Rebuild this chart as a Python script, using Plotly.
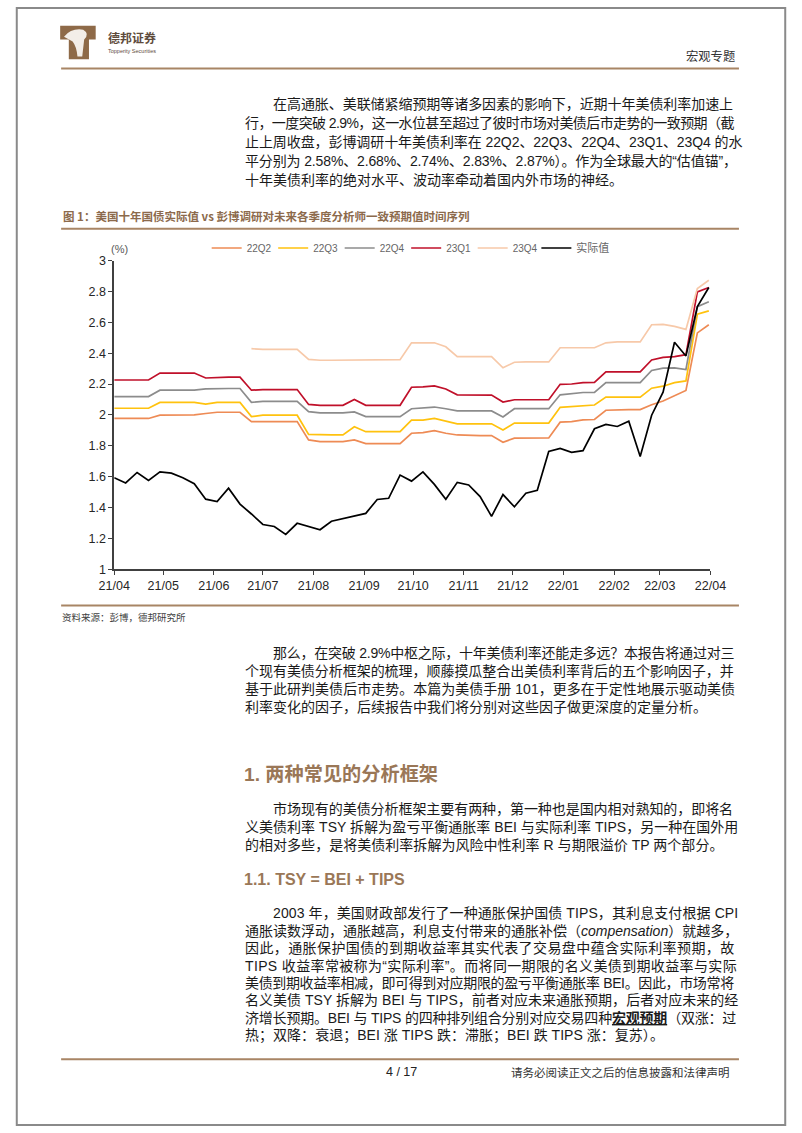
import re
import plotly.graph_objects as go
import pandas as pd

W, H = 802, 1133

# ---------------- data ----------------
start_date = "2021-04-01"
n_weeks = 53
dates = pd.date_range(start_date, periods=n_weeks, freq="7D")

actual = [1.593, 1.559, 1.627, 1.576, 1.631, 1.623, 1.593, 1.554, 1.454, 1.439,
          1.525, 1.422, 1.358, 1.290, 1.277, 1.226, 1.298, 1.277, 1.256, 1.311,
          1.328, 1.345, 1.362, 1.452, 1.460, 1.610, 1.571, 1.631, 1.550, 1.454,
          1.563, 1.546, 1.471, 1.343, 1.484, 1.405, 1.493, 1.512, 1.763, 1.783,
          1.757, 1.768, 1.910, 1.938, 1.925, 1.959, 1.731, 1.998, 2.147, 2.471,
          2.382, 2.701, 2.825]

f22q2 = [1.977, 1.977, 1.977, 1.977, 1.998, 2.000, 2.000, 2.000, 2.009, 2.017,
         2.017, 2.017, 1.957, 1.957, 1.957, 1.957, 1.957, 1.838, 1.827, 1.827,
         1.827, 1.838, 1.814, 1.814, 1.814, 1.814, 1.881, 1.885, 1.898, 1.881,
         1.870, 1.866, 1.866, 1.866, 1.823, 1.849, 1.851, 1.851, 1.851, 1.953,
         1.957, 1.968, 1.970, 2.030, 2.034, 2.034, 2.034, 2.066, 2.090, 2.126,
         2.158, 2.531, 2.584]

f22q3 = [2.043, 2.043, 2.043, 2.043, 2.081, 2.081, 2.081, 2.081, 2.070, 2.081,
         2.081, 2.081, 1.989, 1.998, 1.998, 1.998, 1.998, 1.874, 1.870, 1.870,
         1.870, 1.923, 1.891, 1.891, 1.891, 1.891, 1.966, 1.966, 1.977, 1.960,
         1.942, 1.942, 1.942, 1.942, 1.902, 1.947, 1.947, 1.947, 1.947, 2.049,
         2.055, 2.062, 2.064, 2.115, 2.115, 2.115, 2.115, 2.173, 2.186, 2.209,
         2.220, 2.652, 2.674]

f22q4 = [2.119, 2.119, 2.119, 2.119, 2.160, 2.160, 2.160, 2.160, 2.168, 2.171,
         2.171, 2.171, 2.081, 2.087, 2.087, 2.087, 2.087, 2.021, 2.013, 2.013,
         2.013, 2.019, 1.989, 1.989, 1.989, 1.989, 2.040, 2.045, 2.051, 2.040,
         2.026, 2.026, 2.026, 2.026, 1.987, 2.040, 2.040, 2.040, 2.040, 2.130,
         2.136, 2.145, 2.145, 2.209, 2.209, 2.209, 2.209, 2.288, 2.303, 2.305,
         2.294, 2.701, 2.733]

f23q1 = [2.226, 2.226, 2.226, 2.226, 2.271, 2.271, 2.271, 2.271, 2.239, 2.243,
         2.245, 2.245, 2.160, 2.164, 2.164, 2.164, 2.164, 2.068, 2.062, 2.062,
         2.062, 2.100, 2.062, 2.062, 2.062, 2.062, 2.179, 2.181, 2.188, 2.168,
         2.130, 2.128, 2.128, 2.128, 2.083, 2.098, 2.098, 2.098, 2.098, 2.198,
         2.200, 2.209, 2.211, 2.279, 2.279, 2.279, 2.279, 2.356, 2.373, 2.377,
         2.390, 2.797, 2.825]

f23q4 = [None, None, None, None, None, None, None, None, None, None,
         None, None, 2.429, 2.424, 2.424, 2.424, 2.424, 2.360, 2.354, 2.354,
         2.354, 2.358, 2.358, 2.358, 2.358, 2.358, 2.467, 2.467, 2.467, 2.441,
         2.377, 2.377, 2.377, 2.377, 2.305, 2.341, 2.343, 2.343, 2.343, 2.435,
         2.435, 2.435, 2.435, 2.467, 2.473, 2.473, 2.473, 2.584, 2.586, 2.573,
         2.554, 2.819, 2.872]

series_names = ["22Q2", "22Q3", "22Q4", "23Q1", "23Q4", "实际值"]
series_values = [f22q2, f22q3, f22q4, f23q1, f23q4, actual]
series_colors = ["#EE8B55", "#FFC20E", "#8C8C8C", "#C0102A", "#F7C9A9", "#000000"]

x_tick_dates = ["2021-04-01", "2021-05-01", "2021-06-01", "2021-07-01", "2021-08-01",
                "2021-09-01", "2021-10-01", "2021-11-01", "2021-12-01", "2022-01-01",
                "2022-02-01", "2022-03-01", "2022-04-01"]
x_tick_labels = ["21/04", "21/05", "21/06", "21/07", "21/08", "21/09", "21/10",
                 "21/11", "21/12", "22/01", "22/02", "22/03", "22/04"]
y_tick_vals = [1, 1.2, 1.4, 1.6, 1.8, 2, 2.2, 2.4, 2.6, 2.8, 3]
y_tick_labels = ["1", "1.2", "1.4", "1.6", "1.8", "2", "2.2", "2.4", "2.6", "2.8", "3"]

para1 = ["在高通胀、美联储紧缩预期等诸多因素的影响下，近期十年美债利率加速上",
         "行，一度突破 2.9%，这一水位甚至超过了彼时市场对美债后市走势的一致预期（截",
         "止上周收盘，彭博调研十年美债利率在 22Q2、22Q3、22Q4、23Q1、23Q4 的水",
         "平分别为 2.58%、2.68%、2.74%、2.83%、2.87%）。作为全球最大的“估值锚”，",
         "十年美债利率的绝对水平、波动率牵动着国内外市场的神经。"]
para2 = ["那么，在突破 2.9%中枢之际，十年美债利率还能走多远？本报告将通过对三",
         "个现有美债分析框架的梳理，顺藤摸瓜整合出美债利率背后的五个影响因子，并",
         "基于此研判美债后市走势。本篇为美债手册 101，更多在于定性地展示驱动美债",
         "利率变化的因子，后续报告中我们将分别对这些因子做更深度的定量分析。"]
para3 = ["市场现有的美债分析框架主要有两种，第一种也是国内相对熟知的，即将名",
         "义美债利率 TSY 拆解为盈亏平衡通胀率 BEI 与实际利率 TIPS，另一种在国外用",
         "的相对多些，是将美债利率拆解为风险中性利率 R 与期限溢价 TP 两个部分。"]
para4 = ["2003 年，美国财政部发行了一种通胀保护国债 TIPS，其利息支付根据 CPI",
         "通胀读数浮动，通胀越高，利息支付带来的通胀补偿（<i>compensation</i>）就越多，",
         "因此，通胀保护国债的到期收益率其实代表了交易盘中蕴含实际利率预期，故",
         "TIPS 收益率常被称为“实际利率”。而将同一期限的名义美债到期收益率与实际",
         "美债到期收益率相减，即可得到对应期限的盈亏平衡通胀率 BEI。因此，市场常将",
         "名义美债 TSY 拆解为 BEI 与 TIPS，前者对应未来通胀预期，后者对应未来的经",
         "济增长预期。BEI 与 TIPS 的四种排列组合分别对应交易四种<b><span style='text-decoration:underline'>宏观预期</span></b>（双涨：过",
         "热；双降：衰退；BEI 涨 TIPS 跌：滞胀；BEI 跌 TIPS 涨：复苏）。"]

chart_title = "图 1：美国十年国债实际值 vs 彭博调研对未来各季度分析师一致预期值时间序列"
source_text = "资料来源：彭博，德邦研究所"
section1 = "1. 两种常见的分析框架"
section11 = "1.1. TSY = BEI + TIPS"

# ---------------- helpers ----------------
def px(x):
    return x / W

def py(y):
    return 1 - y / H

BODY = "Liberation Sans, Noto Sans CJK SC"
CJK = "Noto Sans CJK SC"
BROWN = "#9A7757"
RULE = "#A88565"
BODY_SIZE = 14
TEXT_LEFT, TEXT_RIGHT, INDENT = 236, 751, 266
CJK_ADV = 1.054   # measured advance of CJK glyphs (em) in the rendered page

LATIN_W = {**{d: 0.556 for d in "0123456789"}, ".": 0.278, "%": 0.889, " ": 0.278,
           "+": 0.584, "=": 0.584, "“": 0.333, "”": 0.333,
           "A": .667, "B": .667, "C": .722, "D": .722, "E": .667, "I": .278, "P": .667,
           "Q": .778, "R": .722, "S": .667, "T": .611, "Y": .667,
           "a": .556, "c": .5, "e": .556, "i": .222, "m": .833, "n": .556, "o": .556,
           "p": .556, "s": .5, "t": .278}

def est_width(s, size):
    plain = re.sub(r"<[^>]+>", "", s)
    w = 0.0
    for ch in plain:
        if ord(ch) >= 0x2E80 or ch in "，。、：；（）？！":
            w += CJK_ADV
        else:
            w += LATIN_W.get(ch, 0.556)
    return w * size, len(plain)

annotations = []

def txt(x, y, s, size=BODY_SIZE, color="#1a1a1a", family=BODY, xanchor="left"):
    annotations.append(dict(x=px(x), y=py(y), xref="paper", yref="paper", text=s,
                            showarrow=False, xanchor=xanchor, yanchor="middle", align="left",
                            font=dict(size=size, color=color, family=family)))

def paragraph(lines, ys):
    spacings = []
    for i, line in enumerate(lines[:-1]):
        x0 = INDENT if i == 0 else TEXT_LEFT
        w, n = est_width(line, BODY_SIZE)
        spacings.append((TEXT_RIGHT - x0 - w) / max(n - 1, 1))
    last_ls = max(0.0, min(sorted(spacings)[len(spacings) // 2] if spacings else 0.0, 1.0))
    for i, (line, y) in enumerate(zip(lines, ys)):
        x0 = INDENT if i == 0 else TEXT_LEFT
        ls = spacings[i] if i < len(lines) - 1 else last_ls
        txt(x0, y, f"<span style='letter-spacing:{ls:.2f}px'>{line}</span>")

shapes = []

def hrule(y, x0=47, x1=753, color=RULE, width=2):
    shapes.append(dict(type="line", xref="paper", yref="paper", x0=px(x0), x1=px(x1),
                       y0=py(y), y1=py(y), line=dict(color=color, width=width)))

# ---------------- figure ----------------
fig = go.Figure()
for name, vals, col in zip(series_names, series_values, series_colors):
    fig.add_trace(go.Scatter(x=dates, y=vals, mode="lines", name=name,
                             line=dict(color=col, width=1.7),
                             legend="legend2" if name == "实际值" else "legend"))

x0p, x1p = 102.3, 723.3
y_top, y_bot = 256.7, 569.3

legend_font = dict(size=10, color="#666666", family="Liberation Sans, Noto Sans CJK SC")
legend2_font = dict(size=11, color="#666666", family="Liberation Sans, Noto Sans CJK SC")
fig.update_layout(
    width=W, height=H,
    margin=dict(l=0, r=0, t=0, b=0),
    paper_bgcolor="white", plot_bgcolor="white",
    showlegend=True,
    legend=dict(orientation="h", x=px(198.6), y=py(244), xanchor="left", yanchor="middle",
                font=legend_font, bgcolor="rgba(0,0,0,0)", entrywidth=21.5,
                entrywidthmode="pixels", itemclick=False),
    legend2=dict(orientation="h", x=px(542), y=py(244), xanchor="left", yanchor="middle",
                 font=legend2_font, bgcolor="rgba(0,0,0,0)", itemclick=False),
    xaxis=dict(domain=[px(x0p), px(x1p)], range=["2021-04-01", "2022-04-01"],
               tickmode="array", tickvals=x_tick_dates, ticktext=x_tick_labels,
               showgrid=False, zeroline=False, showline=True, linecolor="#404040",
               linewidth=1.5, ticks="outside", ticklen=4, tickcolor="#404040",
               tickfont=dict(size=12.5, color="#262626", family="Liberation Sans")),
    yaxis=dict(domain=[py(y_bot), py(y_top)], range=[1, 3],
               tickmode="array", tickvals=y_tick_vals, ticktext=y_tick_labels,
               showgrid=False, zeroline=False, showline=True, linecolor="#404040",
               linewidth=1.5, ticks="outside", ticklen=4, tickcolor="#404040",
               tickfont=dict(size=12.5, color="#262626", family="Liberation Sans")),
)

# page border
shapes.append(dict(type="rect", xref="paper", yref="paper", x0=0.001, x1=0.999, y0=0.001, y1=0.999,
                   line=dict(color="#8a8a8a", width=2)))

# logo
shapes.append(dict(type="path", xref="paper", yref="paper",
                   path=(f"M {px(46)} {py(19)} L {px(83)} {py(19)} L {px(83)} {py(33)} "
                         f"L {px(76)} {py(33)} L {px(76)} {py(53)} L {px(55)} {py(53)} "
                         f"L {px(55)} {py(33)} L {px(46)} {py(33)} Z"),
                   fillcolor="#8E6A48", line=dict(width=0)))
shapes.append(dict(type="path", xref="paper", yref="paper",
                   path=(f"M {px(50)} {py(30)} Q {px(58)} {py(21)} {px(70)} {py(23)} "
                         f"Q {px(77)} {py(27)} {px(71)} {py(33)} L {px(69)} {py(50)} "
                         f"L {px(64)} {py(50)} Q {px(63)} {py(40)} {px(59)} {py(35)} Z"),
                   fillcolor="#F3EEE8", line=dict(width=0)))

txt(93.6, 31, "<b>德邦证券</b>", size=12, color="#5E4B3C", family=CJK)
txt(93.6, 44.5, "Topperity Securities", size=5.5, color="#5E4B3C", family="Liberation Sans")
txt(695.6, 49.3, "宏观专题", size=12.3, color="#333333", family=CJK)
hrule(62.3)

paragraph(para1, [98.3, 117.6, 136.9, 156.2, 175.5])

txt(47, 211.7, "<b>" + chart_title + "</b>", size=11.5, color="#8C6A4C", family=CJK)
hrule(224.5)
txt(97, 245, "(%)", size=11, color="#595959", family="Liberation Sans")
hrule(606)
txt(46, 617.5, source_text, size=9.5, color="#404040", family=CJK)

paragraph(para2, [654, 672.2, 690.4, 708.6])

txt(235, 776.7, "<b>" + section1 + "</b>", size=19.2, color=BROWN, family="Liberation Sans, Noto Sans CJK SC")

paragraph(para3, [811.7, 830, 848.3])

txt(235, 883.3, "<b>" + section11 + "</b>", size=16, color=BROWN, family="Liberation Sans")

paragraph(para4, [917.7, 935.3, 952.9, 970.5, 988.1, 1005.7, 1023.3, 1040.9])

hrule(1065.3)
txt(402, 1078, "4 / 17", size=12.5, color="#222222", family="Liberation Sans", xanchor="center")
txt(514, 1078, "请务必阅读正文之后的信息披露和法律声明", size=11.5, color="#333333", family=CJK)

fig.update_layout(annotations=annotations, shapes=shapes)
fig.write_html("out.html", config={"displayModeBar": False},
               post_script="document.body.style.margin='0px';document.body.style.overflow='hidden';")
